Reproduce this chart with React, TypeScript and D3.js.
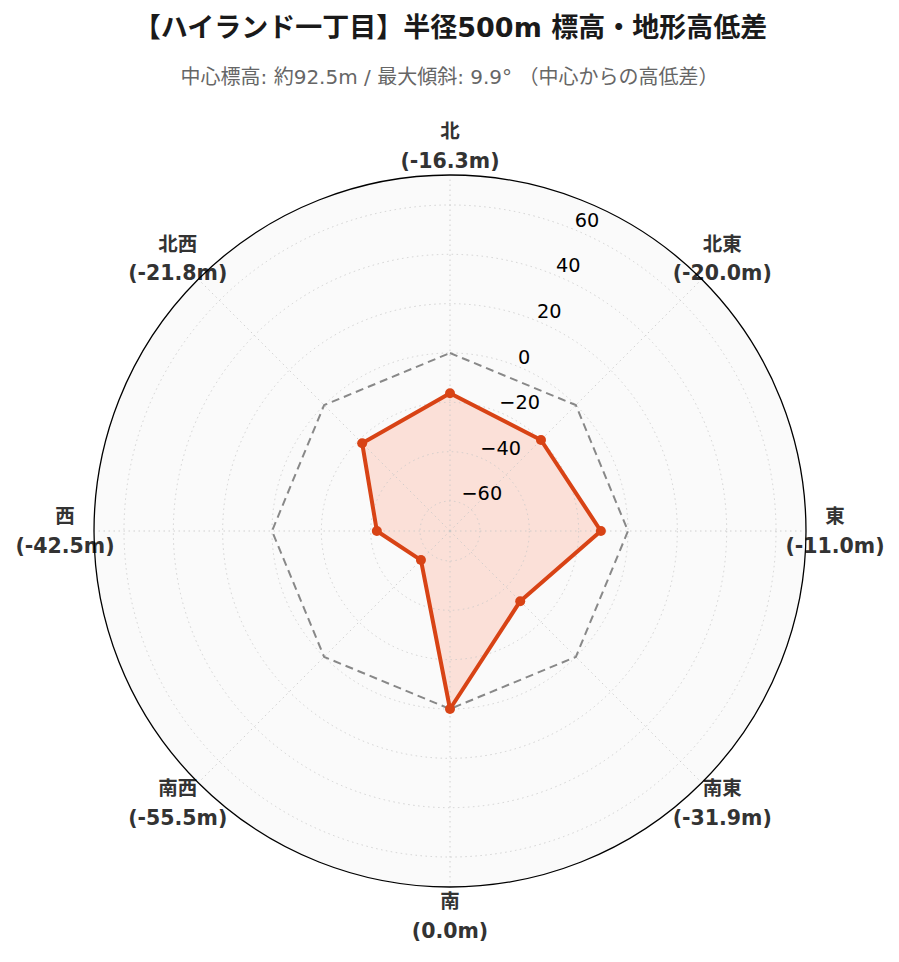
import React from "react";
import * as d3 from "d3";

const directions = ["北", "北東", "東", "南東", "南", "南西", "西", "北西"];
const diffs = [-16.3, -20.0, -11.0, -31.9, 0.0, -55.5, -42.5, -21.8];
const radialTicks = [-60, -40, -20, 0, 20, 40, 60];
const referenceValue = 0;
const radialLimit = 72.15;
const titleText = "【ハイランド一丁目】半径500m 標高・地形高低差";
const subtitleText = "中心標高: 約92.5m / 最大傾斜: 9.9° （中心からの高低差）";

const W = 899;
const H = 962;
const cx = 450;
const cy = 531;
const R = 356;
const FONT = "'DejaVu Sans', 'Noto Sans CJK JP', sans-serif";

export default function App() {
  const r = d3.scaleLinear().domain([-radialLimit, radialLimit]).range([0, R]);
  const angle = d3
    .scaleLinear()
    .domain([0, directions.length])
    .range([0, 2 * Math.PI]);
  const pt = (i: number, v: number): [number, number] => {
    const a = angle(i);
    return [cx + r(v) * Math.sin(a), cy - r(v) * Math.cos(a)];
  };
  const line = d3.line<[number, number]>().curve(d3.curveLinearClosed);
  const dataPts = diffs.map((v, i) => pt(i, v));
  const refPts = directions.map((_, i) => pt(i, referenceValue));
  const labelAngle = Math.PI / 8;
  const fmtTick = (v: number) => (v < 0 ? "\u2212" + Math.abs(v) : String(v));

  return (
    <svg
      width={W}
      height={H}
      style={{ position: "absolute", left: 0, top: 0, background: "#fff" }}
    >
      <text
        x={W / 2 + 1}
        y={27}
        textAnchor="middle"
        dominantBaseline="central"
        fontFamily={FONT}
        fontWeight="bold"
        fontSize={27}
        fill="#1a1a1a"
      >
        {titleText}
      </text>
      <text
        x={W / 2}
        y={77}
        textAnchor="middle"
        dominantBaseline="central"
        fontFamily={FONT}
        fontSize={20}
        fill="#666"
      >
        {subtitleText}
      </text>

      <circle cx={cx} cy={cy} r={R} fill="#fafafa" />

      <path d={line(dataPts) || ""} fill="#fbe0d8" stroke="none" />

      {radialTicks.map((t) => (
        <circle
          key={"g" + t}
          cx={cx}
          cy={cy}
          r={r(t)}
          fill="none"
          stroke="#c8c8c8"
          strokeWidth={1}
          strokeDasharray="1.5,3.5"
          opacity={0.8}
        />
      ))}
      {directions.map((d, i) => {
        const [x, y] = pt(i, radialLimit);
        return (
          <line
            key={"s" + d}
            x1={cx}
            y1={cy}
            x2={x}
            y2={y}
            stroke="#c8c8c8"
            strokeWidth={1}
            strokeDasharray="1.5,3.5"
            opacity={0.8}
          />
        );
      })}

      {directions.map((d, i) => {
        const a = angle(i);
        const lr = 385;
        const x = cx + lr * Math.sin(a);
        const y = cy - lr * Math.cos(a);
        return (
          <g key={"l" + d}>
            <text
              x={x}
              y={y - 14.5}
              textAnchor="middle"
              dominantBaseline="central"
              fontFamily={FONT}
              fontWeight="bold"
              fontSize={19.5}
              fill="#333"
            >
              {d}
            </text>
            <text
              x={x}
              y={y + 14.5}
              textAnchor="middle"
              dominantBaseline="central"
              fontFamily={FONT}
              fontWeight="bold"
              fontSize={20.5}
              fill="#333"
            >
              {`(${diffs[i].toFixed(1)}m)`}
            </text>
          </g>
        );
      })}

      <circle cx={cx} cy={cy} r={R} fill="none" stroke="#000" strokeWidth={1.3} />

      <path
        d={line(refPts) || ""}
        fill="none"
        stroke="#888"
        strokeWidth={2}
        strokeDasharray="8,5"
      />

      <path
        d={line(dataPts) || ""}
        fill="none"
        stroke="#d84315"
        strokeWidth={4}
        strokeLinejoin="round"
      />
      {dataPts.map(([x, y], i) => (
        <circle key={"p" + i} cx={x} cy={y} r={5} fill="#d84315" />
      ))}

      {radialTicks.map((t) => {
        const x = cx + r(t) * Math.sin(labelAngle);
        const y = cy - r(t) * Math.cos(labelAngle);
        return (
          <text
            key={"t" + t}
            x={x}
            y={y - 3}
            textAnchor="start"
            fontFamily="'DejaVu Sans', sans-serif"
            fontSize={19.3}
            fill="#000"
          >
            {fmtTick(t)}
          </text>
        );
      })}
    </svg>
  );
}
